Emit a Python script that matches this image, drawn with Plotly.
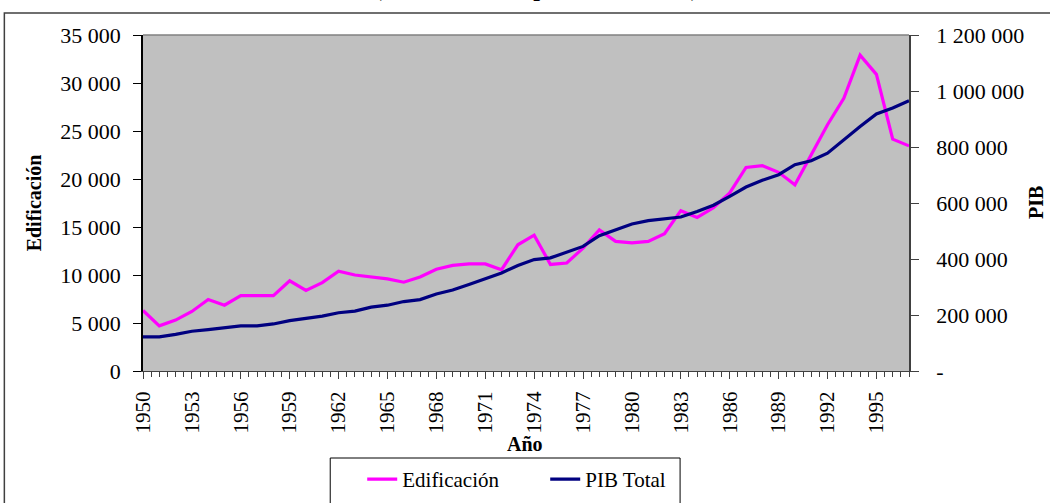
import plotly.graph_objects as go

# años 1950-1997
years = list(range(1950, 1998))

# Edificación (eje izquierdo)
edificacion = [6300, 4700, 5300, 6200, 7450, 6850, 7850, 7850, 7850, 9400,
               8400, 9200, 10400, 10000, 9800, 9600, 9250, 9800, 10600, 11000,
               11150, 11150, 10550, 13150, 14150, 11100, 11250, 12800, 14700, 13500,
               13350, 13500, 14300, 16700, 16000, 17000, 18550, 21200, 21400, 20700,
               19400, 22500, 25650, 28400, 32900, 30900, 24150, 23450]

# PIB total (eje derecho)
pib_total = [122000, 122000, 131000, 142000, 148000, 155000, 161000, 161000, 168000, 180000,
             187000, 196000, 208000, 214000, 228000, 235000, 248000, 255000, 275000, 289000,
             309000, 329000, 350000, 377000, 398000, 404000, 424000, 445000, 483000, 505000,
             525000, 537000, 544000, 550000, 570000, 592000, 624000, 657000, 681000, 701000,
             737000, 751000, 778000, 826000, 873000, 918000, 939000, 965000]

x_ticks = list(range(1950, 1998, 3))
y_ticks = list(range(0, 35001, 5000))
y_text = ["0", "5 000", "10 000", "15 000", "20 000", "25 000", "30 000", "35 000"]
y2_ticks = list(range(0, 1200001, 200000))
y2_text = ["-", "200 000", "400 000", "600 000", "800 000", "1 000 000", "1 200 000"]

FONT = "Liberation Serif"

# posiciones en pixeles -> coordenadas paper
L, R, T, B = 142.7, 909.0, 35.0, 371.0
def px(x):
    return (x - L) / (R - L)
def py(y):
    return (B - y) / (B - T)

fig = go.Figure()
fig.add_trace(go.Scatter(x=years, y=edificacion, name="Edificación", mode="lines",
                         line=dict(color="#FF00FF", width=3.2)))
fig.add_trace(go.Scatter(x=years, y=pib_total, name="PIB Total", mode="lines", yaxis="y2",
                         line=dict(color="#000080", width=3.2)))

fig.update_layout(
    width=1050, height=503,
    margin=dict(l=L, r=1050 - R, t=T, b=503 - B, autoexpand=False),
    paper_bgcolor="white",
    plot_bgcolor="#C0C0C0",
    font=dict(family=FONT, color="black"),
    showlegend=True,
    legend=dict(orientation="h", x=px(362), y=py(459), xanchor="left", yanchor="top",
                bgcolor="rgba(0,0,0,0)", borderwidth=0, entrywidth=138,
                font=dict(family=FONT, size=21), itemwidth=30),
    xaxis=dict(range=[1950, 1997], tickmode="array", tickvals=x_ticks,
               ticktext=[str(v) for v in x_ticks], tickangle=-90,
               tickfont=dict(family=FONT, size=21), ticks="outside", ticklen=7, tickcolor="#404040",
               ticklabelstandoff=4,
               minor=dict(dtick=0.5, ticks="outside", ticklen=5, tickcolor="#404040"),
               showgrid=False, zeroline=False, showline=True, linecolor="#404040"),
    yaxis=dict(range=[0, 35000], tickmode="array", tickvals=y_ticks, ticktext=y_text,
               tickfont=dict(family=FONT, size=22), ticks="outside", ticklen=8, tickcolor="black",
               ticklabelstandoff=8,
               showgrid=False, zeroline=False, showline=True, linecolor="black", linewidth=1.5),
    yaxis2=dict(range=[0, 1200000], overlaying="y", side="right", tickmode="array",
                tickvals=y2_ticks, ticktext=y2_text,
                tickfont=dict(family=FONT, size=22), ticks="outside", ticklen=8, tickcolor="#404040",
                ticklabelstandoff=13,
                showgrid=False, zeroline=False, showline=True, linecolor="#404040", linewidth=1.5),
)

# borde superior del área de trazado, marco exterior y caja de la leyenda
fig.add_shape(type="line", xref="paper", yref="paper", x0=0, x1=1, y0=1, y1=1,
              line=dict(color="#808080", width=1.5))
fig.add_shape(type="rect", xref="paper", yref="paper", x0=px(4), x1=px(1060), y0=py(13), y1=py(520),
              line=dict(color="#404040", width=1.5), layer="below")
fig.add_shape(type="rect", xref="paper", yref="paper", x0=px(330), x1=px(680), y0=py(458), y1=py(520),
              line=dict(color="black", width=1), fillcolor="white", layer="below")

fig.add_annotation(text="<b>Edificación</b>", xref="paper", yref="paper", x=px(34), y=py(203),
                   xanchor="center", yanchor="middle", textangle=-90, showarrow=False,
                   font=dict(family=FONT, size=20))
fig.add_annotation(text="<b>PIB</b>", xref="paper", yref="paper", x=px(1036), y=py(202),
                   xanchor="center", yanchor="middle", textangle=-90, showarrow=False,
                   font=dict(family=FONT, size=20))
fig.add_annotation(text="<b>Año</b>", xref="paper", yref="paper", x=px(525), y=py(444),
                   xanchor="center", yanchor="middle", showarrow=False,
                   font=dict(family=FONT, size=20))
# título: en la referencia solo asoma la parte inferior
fig.add_annotation(text="<b>(en millones de pesetas de 1986)</b>", xref="paper", yref="paper",
                   x=px(536), y=py(-12), xanchor="center", yanchor="middle", showarrow=False,
                   font=dict(family=FONT, size=24))

fig.write_html("out.html", config={"displayModeBar": False},
               post_script="document.body.style.margin='0';")
